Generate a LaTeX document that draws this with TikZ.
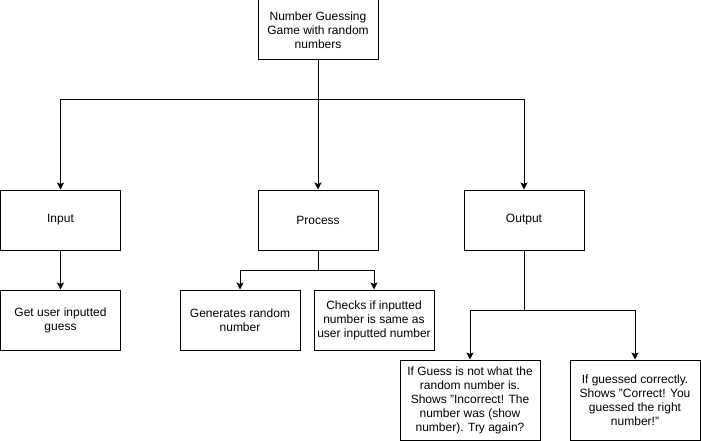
\documentclass[tikz,border=0pt]{standalone}
\usepackage{fontspec}
\setmainfont{Liberation Sans}
\usetikzlibrary{arrows.meta}
\begin{document}
\begin{tikzpicture}[x=1pt,y=-1pt,
  box/.style={draw, line width=1pt, inner sep=0pt, align=center,
    font=\fontsize{12}{14}\selectfont, minimum width=120pt, minimum height=60pt},
  line/.style={line width=1pt},
  arr/.style={line width=1pt, -{Stealth[length=7pt,width=7pt,inset=1.5pt]}}]
\useasboundingbox (0,0) rectangle (701,441);
\node[box] (top) at (318,30) {Number Guessing\\Game with random\\numbers};
\node[box] (in) at (60.5,220) {Input};
\node[box] (proc) at (318,220) {Process};
\node[box] (out) at (524,220) {Output};
\node[box] (get) at (60.5,320) {Get user inputted\\guess};
\node[box] (gen) at (240,320) {Generates random\\number};
\node[box] (chk) at (374,320) {Checks if inputted\\number is same as\\user inputted number};
\node[box, minimum width=140pt, minimum height=80pt] (notg) at (470,400) {If Guess is not what the\\random number is.\\Shows "Incorrect! The\\number was (show\\number). Try again?};
\node[box, minimum width=130pt, minimum height=80pt] (corr) at (635,400) {If guessed correctly.\\Shows "Correct! You\\guessed the right\\number!"};
\coordinate (jt) at (318,100);
\coordinate (jp) at (318,270);
\coordinate (jo) at (524,310);
\draw[line] (top.south) -- (jt);
\draw[arr] (jt) -| (in.north);
\draw[arr] (jt) -- (proc.north);
\draw[arr] (jt) -| (out.north);
\draw[arr] (in.south) -- (get.north);
\draw[line] (proc.south) -- (jp);
\draw[arr] (jp) -| (gen.north);
\draw[arr] (jp) -| (chk.north);
\draw[line] (out.south) -- (jo);
\draw[arr] (jo) -| (notg.north);
\draw[arr] (jo) -| (corr.north);
\end{tikzpicture}
\end{document}
